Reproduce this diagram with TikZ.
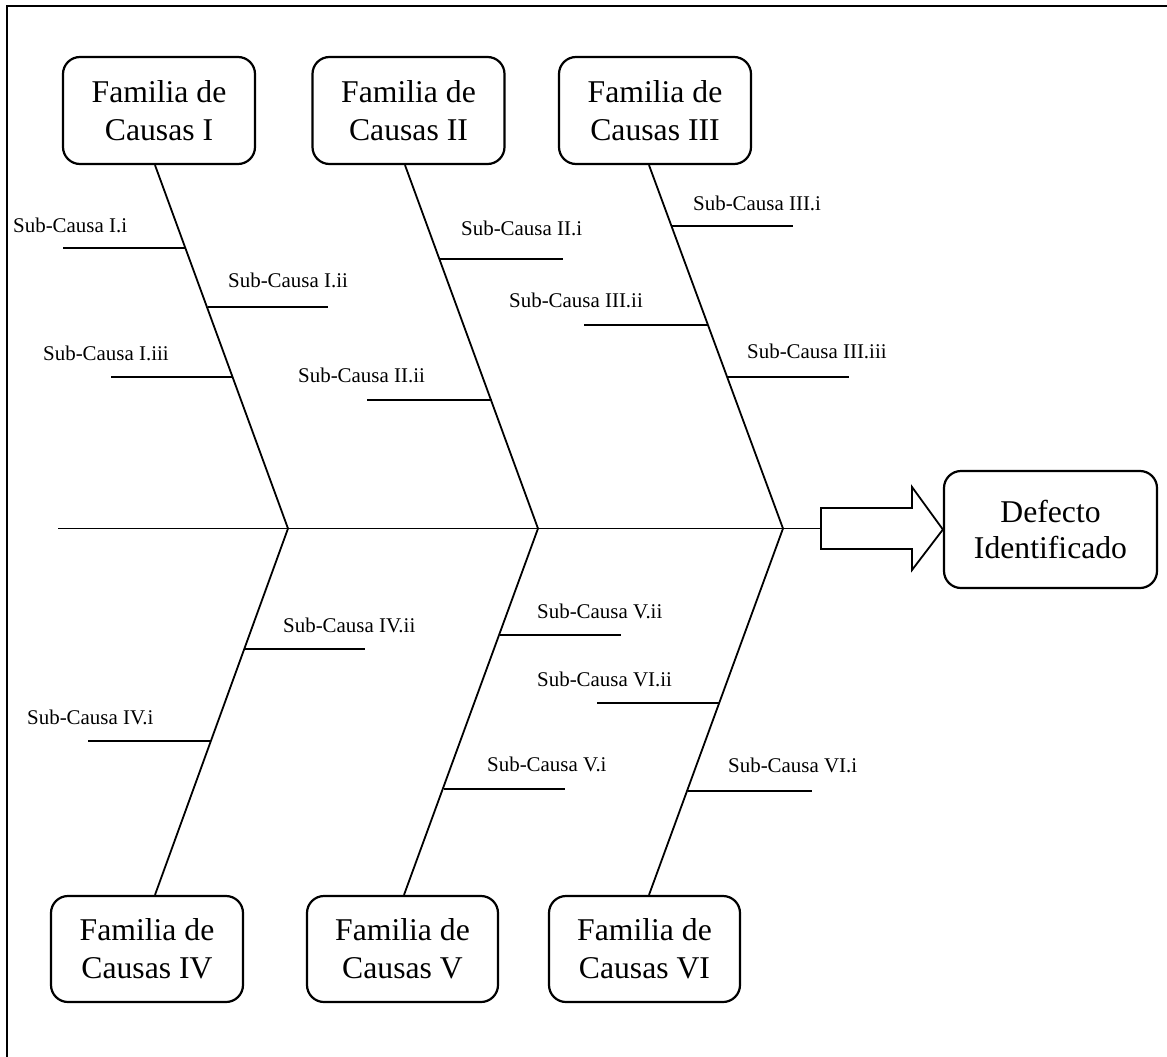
\documentclass[tikz,border=0pt]{standalone}
\usepackage{fontspec}
\setmainfont{Liberation Serif}
\usetikzlibrary{calc}
\begin{document}
\begin{tikzpicture}[x=1bp,y=-1bp,
  fam/.style={draw, line width=2.2bp, rounded corners=17bp, minimum width=192bp, minimum height=107bp, align=center, inner sep=0pt, font=\fontsize{31.8}{38}\selectfont},
  bone/.style={line width=1.8bp},
  sub/.style={anchor=base west, inner sep=0pt, font=\fontsize{21}{25}\selectfont}]
\useasboundingbox (0,0) rectangle (1167,1057);
\draw[line width=2bp] (6.5,1057) -- (6.5,6) -- (1167,6);

% family boxes
\node[fam] (bI)   at (159,110.5) {Familia de\\Causas I};
\node[fam] (bII)  at (408.5,110.5) {Familia de\\Causas II};
\node[fam] (bIII) at (655,110.5) {Familia de\\Causas III};
\node[fam, minimum height=106bp] (bIV) at (147,949) {Familia de\\Causas IV};
\node[fam, minimum height=106bp, minimum width=191bp] (bV)  at (402.5,949) {Familia de\\Causas V};
\node[fam, minimum height=106bp, minimum width=191bp] (bVI) at (644.5,949) {Familia de\\Causas VI};
\node[fam, minimum width=213bp, minimum height=117bp, font=\fontsize{31.8}{36}\selectfont] (def) at (1050.5,529.5) {Defecto\\Identificado};

% spine
\coordinate (s0) at (58,528.5);
\coordinate (jI) at (288,528.5);
\coordinate (jII) at (538,528.5);
\coordinate (jIII) at (783,528.5);
\coordinate (a0) at (821,528.5);
\draw[bone] (s0) -- (a0);

% block arrow
\draw[line width=1.8bp, line join=miter] (a0) ++(0,-20.5) -- (912,508) -- (912,487) -- (def.west) -- (912,570) -- (912,549) -- (821,549) -- cycle;

% bones
\draw[bone] ($(bI.south)+(-4,0)$) -- (jI);
\draw[bone] ($(bII.south)+(-3.5,0)$) -- (jII);
\draw[bone] ($(bIII.south)+(-6,0)$) -- (jIII);
\draw[bone] ($(bIV.north)+(8,0)$) -- (jI);
\draw[bone] ($(bV.north)+(1.5,0)$) -- (jII);
\draw[bone] ($(bVI.north)+(4.5,0)$) -- (jIII);

% sub-causes
\draw[bone] (63,248) -- (185.9,248);
\node[sub] (lI1) at (13,232) {Sub-Causa I.i};
\draw[bone] (207.6,307) -- (328,307);
\node[sub] (lI2) at (228,287) {Sub-Causa I.ii};
\draw[bone] (111,377) -- (233.3,377);
\node[sub] (lI3) at (43,360) {Sub-Causa I.iii};

\draw[bone] (439.9,259) -- (563,259);
\node[sub] (lII1) at (461,235) {Sub-Causa II.i};
\draw[bone] (367,400) -- (491.8,400);
\node[sub] (lII2) at (298,382) {Sub-Causa II.ii};

\draw[bone] (671.7,225.7) -- (793,225.7);
\node[sub] (lIII1) at (693,210) {Sub-Causa III.i};
\draw[bone] (584,325) -- (708.2,325);
\node[sub] (lIII2) at (509,307) {Sub-Causa III.ii};
\draw[bone] (727.3,377) -- (849,377);
\node[sub] (lIII3) at (747,358) {Sub-Causa III.iii};

\draw[bone] (244.4,649) -- (365,649);
\node[sub] (lIV2) at (283,632) {Sub-Causa IV.ii};
\draw[bone] (88,741) -- (211.1,741);
\node[sub] (lIV1) at (27,724) {Sub-Causa IV.i};

\draw[bone] (499.5,635) -- (621,635);
\node[sub] (lV2) at (537,618) {Sub-Causa V.ii};
\draw[bone] (443.7,789) -- (565,789);
\node[sub] (lV1) at (487,771) {Sub-Causa V.i};

\draw[bone] (597,703) -- (719.8,703);
\node[sub] (lVI2) at (537,686) {Sub-Causa VI.ii};
\draw[bone] (688,791) -- (812,791);
\node[sub] (lVI1) at (728,772) {Sub-Causa VI.i};
\end{tikzpicture}
\end{document}
